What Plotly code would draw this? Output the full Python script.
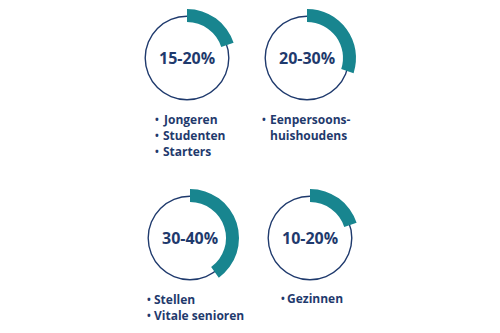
import plotly.graph_objects as go

W, H = 500, 333

range_labels = ["15-20%", "20-30%", "30-40%", "10-20%"]
shares = [20, 30, 40, 20]
groups = [
    ["Jongeren", "Studenten", "Starters"],
    ["Eenpersoons-", "huishoudens"],
    ["Stellen", "Vitale senioren"],
    ["Gezinnen"],
]

TEAL = "#18858f"
NAVY = "#1f3a6d"
FONT = "Open Sans"

centers = [(187, 58), (307, 58), (190, 238), (310, 238)]
# (bullet x, text x, first line y)
bullet_pos = [(153, 161, 119), (260, 268, 119), (145, 152, 299), (279, 285, 298)]
R_OUT, R_IN = 49, 36
R_RING = 42.5

fig = go.Figure()


def dom(cx, cy, r):
    return dict(x=[(cx - r) / W, (cx + r) / W], y=[(H - cy - r) / H, (H - cy + r) / H])


for i, (cx, cy) in enumerate(centers):
    # thin circle
    fig.add_trace(go.Pie(
        values=[1], domain=dom(cx, cy, R_RING), hole=1 - 1.4 / R_RING,
        marker=dict(colors=[NAVY], line=dict(width=0)),
        textinfo="none", hoverinfo="skip", showlegend=False, sort=False))
    # thick arc
    fig.add_trace(go.Pie(
        values=[shares[i], 100 - shares[i]], domain=dom(cx, cy, R_OUT), hole=R_IN / R_OUT,
        marker=dict(colors=[TEAL, "rgba(0,0,0,0)"], line=dict(width=0)),
        direction="clockwise", rotation=0, sort=False,
        textinfo="none", hoverinfo="skip", showlegend=False))
    fig.add_annotation(x=cx / W, y=(H - cy) / H, xref="paper", yref="paper",
                       text="<b>%s</b>" % range_labels[i], showarrow=False,
                       font=dict(family=FONT, size=16, color=NAVY),
                       xanchor="center", yanchor="middle")

line_h = 16
for i, items in enumerate(groups):
    bx, tx, by = bullet_pos[i]
    for j, t in enumerate(items):
        y = (H - (by + j * line_h)) / H
        if not (i == 1 and j == 1):
            fig.add_annotation(x=bx / W, y=y, xref="paper", yref="paper",
                               text="<b>•</b>", showarrow=False,
                               font=dict(family=FONT, size=10, color=NAVY),
                               xanchor="left", yanchor="middle")
        fig.add_annotation(x=tx / W, y=y, xref="paper", yref="paper",
                           text="<b>%s</b>" % t, showarrow=False,
                           font=dict(family=FONT, size=12, color=NAVY),
                           xanchor="left", yanchor="middle", align="left")

fig.update_layout(width=W, height=H, margin=dict(l=0, r=0, t=0, b=0),
                  paper_bgcolor="white", plot_bgcolor="white")
fig.write_html("out.html")
